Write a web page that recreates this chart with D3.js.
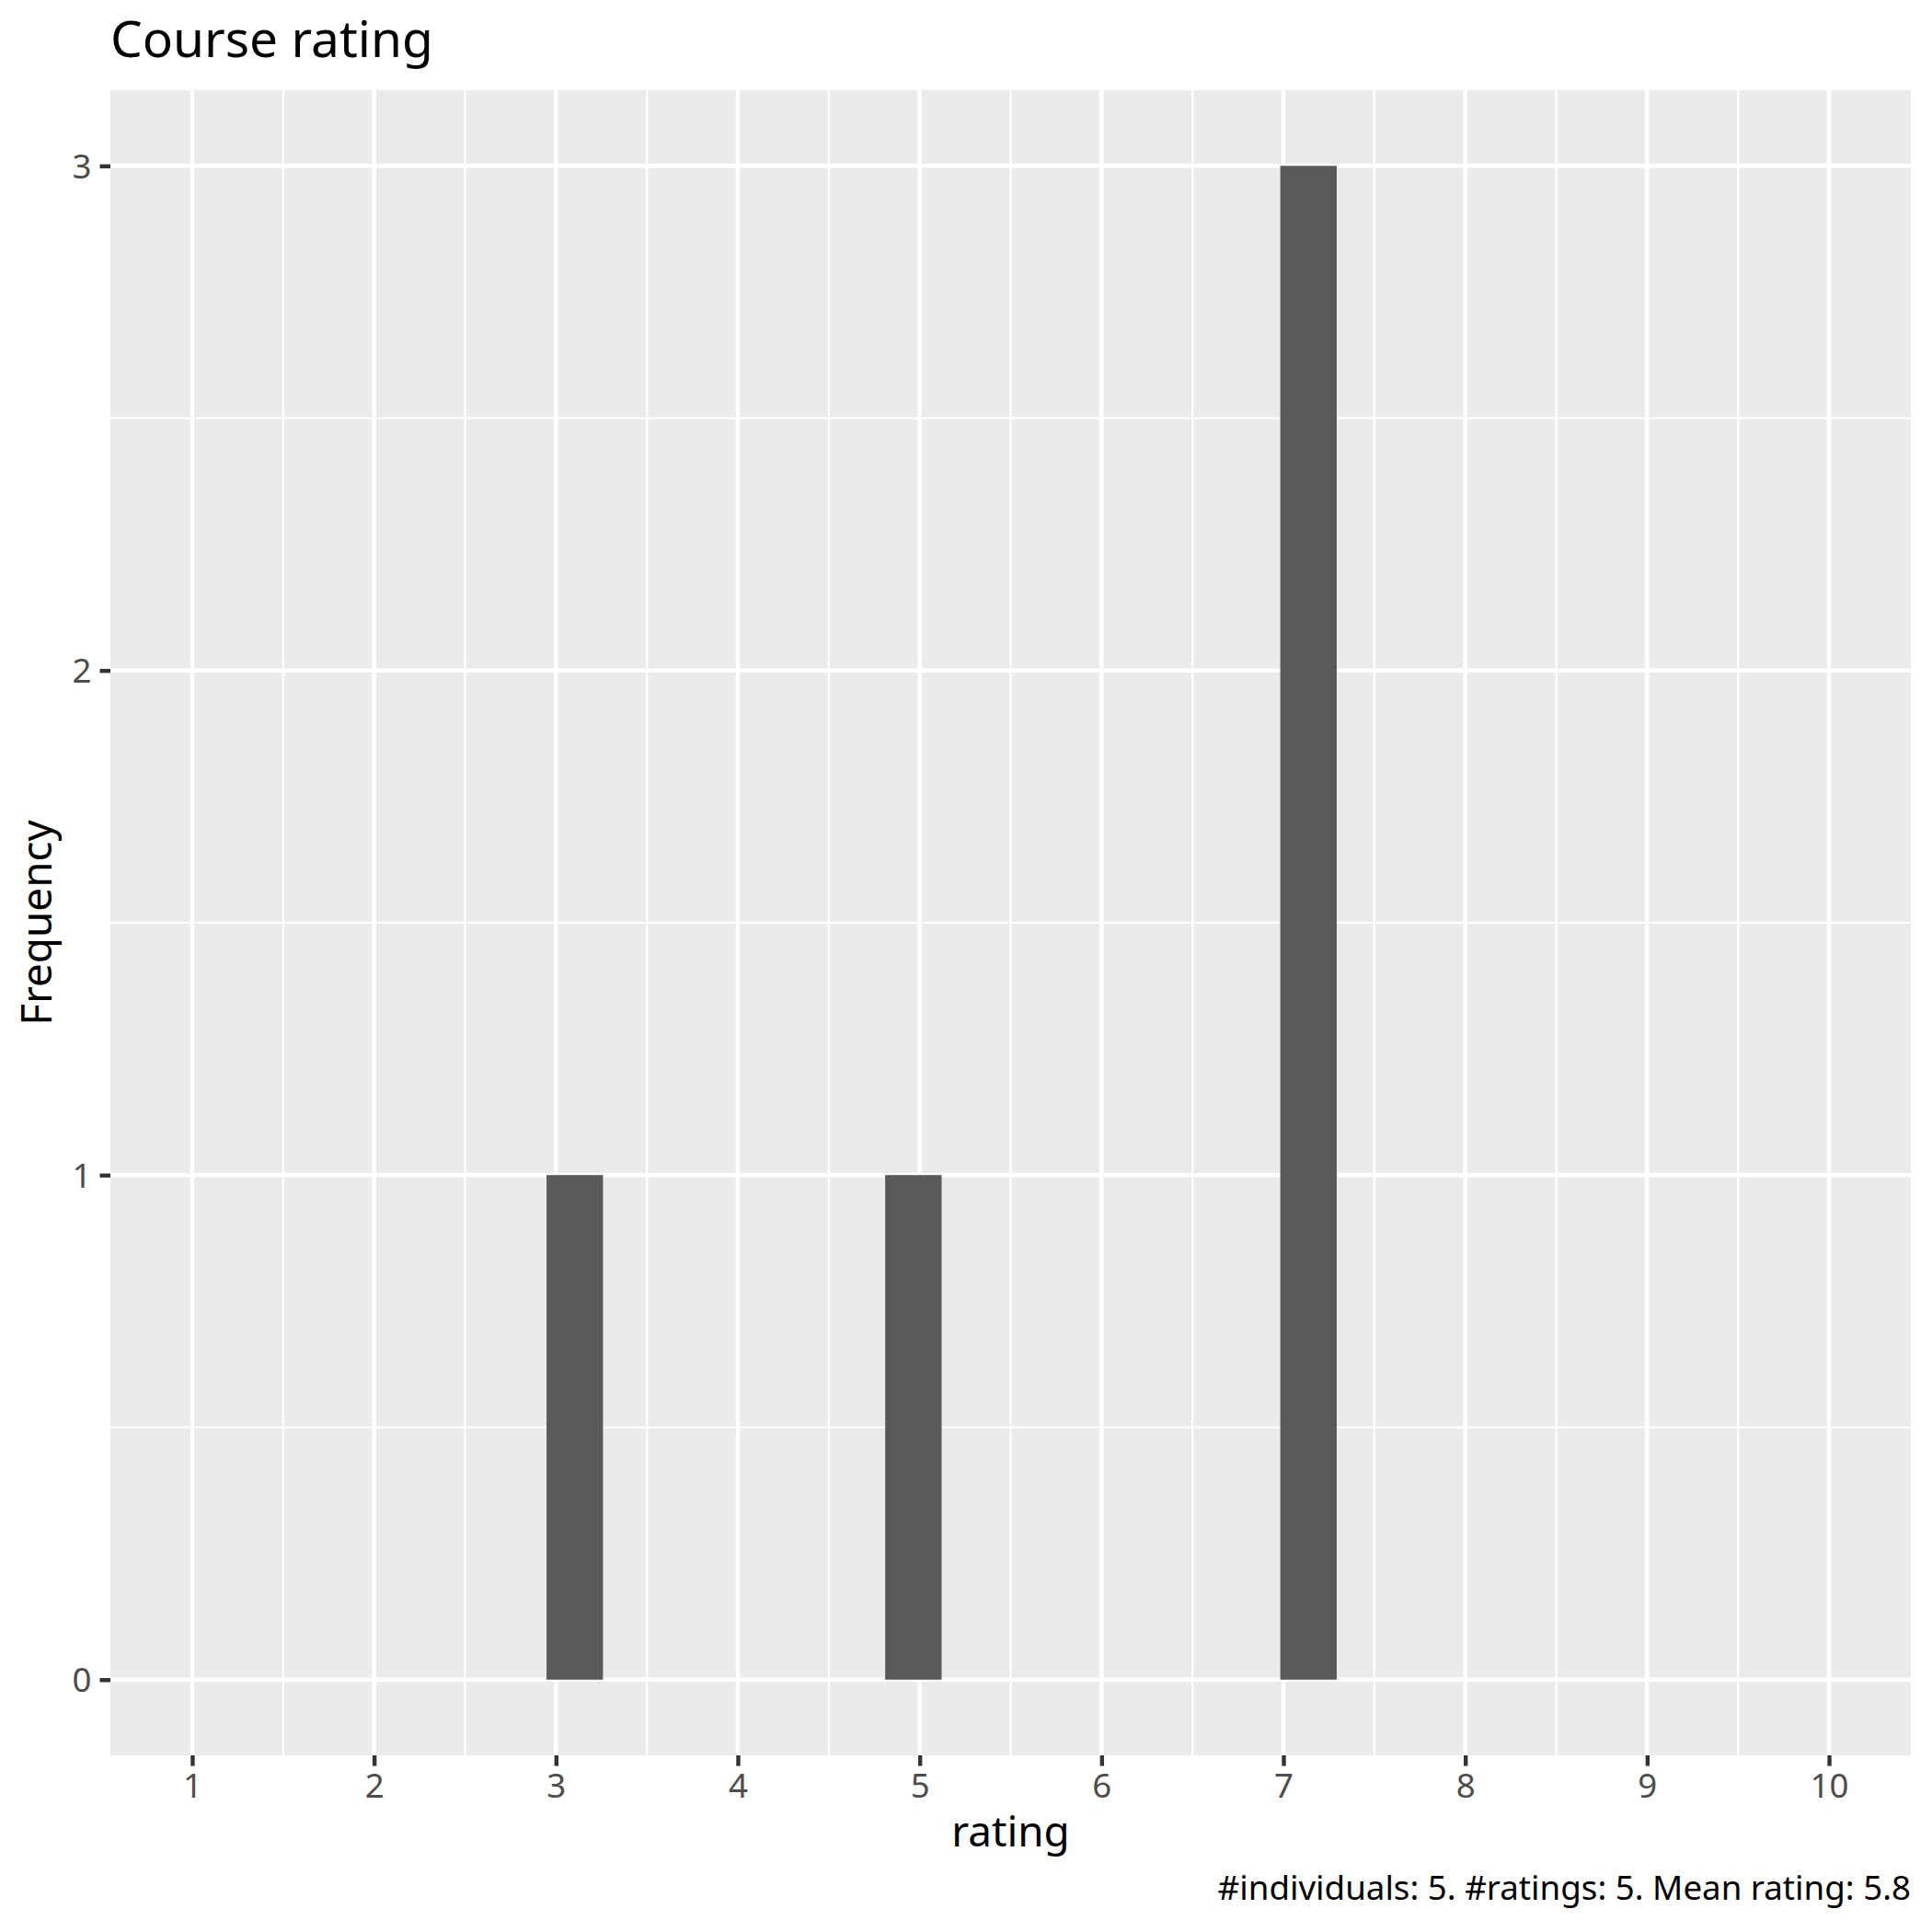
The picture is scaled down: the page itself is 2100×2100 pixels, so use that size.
<!DOCTYPE html>
<html>
<head>
<meta charset="utf-8">
<script src="https://cdn.jsdelivr.net/npm/d3@7"></script>
<style>
  html, body { margin: 0; padding: 0; background: #fff; }
  svg { display: block; }
  text { font-family: "Noto Sans", "Open Sans", sans-serif; }
</style>
</head>
<body>
<script>
// ---- data ----
const ratings = [3, 5, 7, 7, 7];
const xTicks = [1, 2, 3, 4, 5, 6, 7, 8, 9, 10];
const yTicks = [0, 1, 2, 3];
const titleText = "Course rating";
const xLabel = "rating";
const yLabel = "Frequency";
const captionText = "#individuals: 5. #ratings: 5. Mean rating: 5.8";

// ---- layout ----
const W = 2100, H = 2100;
const panel = { left: 120, right: 2077, top: 98, bottom: 1908 };
const xLimits = [1, 10];
const nBins = 30;

const svg = d3.select("body").append("svg")
  .attr("width", W).attr("height", H);

// x scale: limits 1..10, expanded 5%
const xr = xLimits[1] - xLimits[0];
const x = d3.scaleLinear()
  .domain([xLimits[0] - 0.05 * xr, xLimits[1] + 0.05 * xr])
  .range([panel.left, panel.right]);

// histogram binning as ggplot (bins=30 over limits)
const bw = xr / (nBins - 1);
const boundary = bw / 2;
const shift = Math.floor((xLimits[0] - boundary) / bw);
const origin = boundary + shift * bw;
const thresholds = [];
for (let b = origin; b <= xLimits[1] + bw; b += bw) thresholds.push(b);
const bins = d3.bin().domain([thresholds[0], thresholds[thresholds.length - 1]])
  .thresholds(thresholds)(ratings).filter(b => b.length > 0);

const maxCount = d3.max(bins, b => b.length);
const yr = maxCount - 0;
const y = d3.scaleLinear()
  .domain([0 - 0.05 * yr, maxCount + 0.05 * yr])
  .range([panel.bottom, panel.top]);

// panel background
svg.append("rect")
  .attr("x", panel.left).attr("y", panel.top)
  .attr("width", panel.right - panel.left).attr("height", panel.bottom - panel.top)
  .attr("fill", "#EBEBEB");

// minor grid
const xMinor = xTicks.slice(0, -1).map(v => v + 0.5);
const yMinor = yTicks.slice(0, -1).map(v => v + 0.5);
const g = svg.append("g");
g.selectAll(".xminor").data(xMinor).enter().append("line")
  .attr("x1", d => x(d)).attr("x2", d => x(d))
  .attr("y1", panel.top).attr("y2", panel.bottom)
  .attr("stroke", "#fff").attr("stroke-width", 2.2);
g.selectAll(".yminor").data(yMinor).enter().append("line")
  .attr("y1", d => y(d)).attr("y2", d => y(d))
  .attr("x1", panel.left).attr("x2", panel.right)
  .attr("stroke", "#fff").attr("stroke-width", 2.2);
// major grid
g.selectAll(".xmajor").data(xTicks).enter().append("line")
  .attr("x1", d => x(d)).attr("x2", d => x(d))
  .attr("y1", panel.top).attr("y2", panel.bottom)
  .attr("stroke", "#fff").attr("stroke-width", 4.4);
g.selectAll(".ymajor").data(yTicks).enter().append("line")
  .attr("y1", d => y(d)).attr("y2", d => y(d))
  .attr("x1", panel.left).attr("x2", panel.right)
  .attr("stroke", "#fff").attr("stroke-width", 4.4);

// bars
svg.selectAll(".bar").data(bins).enter().append("rect")
  .attr("x", d => x(d.x0))
  .attr("width", d => x(d.x1) - x(d.x0))
  .attr("y", d => y(d.length))
  .attr("height", d => y(0) - y(d.length))
  .attr("fill", "#595959");

// axes
const xAxis = d3.axisBottom(x).tickValues(xTicks).tickSize(11.5).tickPadding(9).tickFormat(d3.format("d"));
const gx = svg.append("g").attr("transform", `translate(0,${panel.bottom})`).call(xAxis);
gx.select(".domain").remove();
gx.selectAll(".tick line").attr("stroke", "#333333").attr("stroke-width", 4.4);
gx.selectAll(".tick text").attr("fill", "#4D4D4D").attr("font-size", 36.7)
  .attr("dy", null).attr("y", 46);

const yAxis = d3.axisLeft(y).tickValues(yTicks).tickSize(11.5).tickPadding(9).tickFormat(d3.format("d"));
const gy = svg.append("g").attr("transform", `translate(${panel.left},0)`).call(yAxis);
gy.select(".domain").remove();
gy.selectAll(".tick line").attr("stroke", "#333333").attr("stroke-width", 4.4);
gy.selectAll(".tick text").attr("fill", "#4D4D4D").attr("font-size", 36.7)
  .attr("dy", "0.35em");

// titles
svg.append("text").text(titleText)
  .attr("x", panel.left).attr("y", 62)
  .attr("font-size", 55).attr("fill", "#000");

svg.append("text").text(xLabel)
  .attr("x", (panel.left + panel.right) / 2).attr("y", 2007)
  .attr("text-anchor", "middle").attr("font-size", 45.8).attr("fill", "#000");

svg.append("text").text(yLabel)
  .attr("transform", `translate(56,${(panel.top + panel.bottom) / 2}) rotate(-90)`)
  .attr("text-anchor", "middle").attr("font-size", 45.8).attr("fill", "#000");

svg.append("text").text(captionText)
  .attr("x", panel.right).attr("y", 2065)
  .attr("text-anchor", "end").attr("font-size", 36.7).attr("fill", "#000");
</script>
</body>
</html>
